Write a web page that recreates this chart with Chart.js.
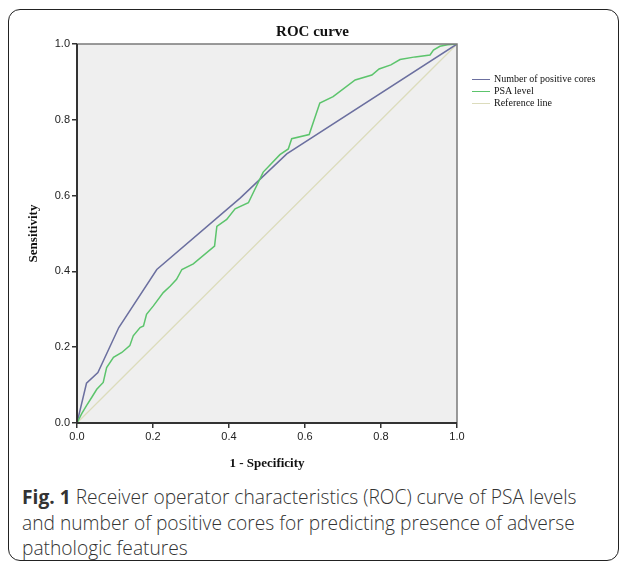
<!DOCTYPE html>
<html>
<head>
<meta charset="utf-8">
<script src="https://cdn.jsdelivr.net/npm/chart.js@4.4.0/dist/chart.umd.min.js"></script>
<style>
  html, body { margin: 0; padding: 0; background: #fff; }
  body { width: 625px; height: 565px; position: relative; overflow: hidden; }
  #frame { position: absolute; left: 8px; top: 9px; width: 611px; height: 552px;
           border: 1.5px solid #222; border-radius: 12px; box-sizing: border-box; }
  #wrap { position: absolute; left: 0; top: 0; width: 625px; height: 475px; }
  #legend { position: absolute; left: 472px; top: 73px; font-family: "Liberation Serif", serif;
            font-size: 10px; color: #111; line-height: 12px; }
  #legend div { display: flex; align-items: center; white-space: nowrap; }
  #legend span.sw { display: inline-block; width: 18px; height: 0; border-top: 1.5px solid; margin-right: 4px; }
  #caption { position: absolute; left: 22px; top: 484px; width: 580px; font-family: "Open Sans", sans-serif;
             font-size: 19.2px; line-height: 25.5px; color: #333; font-weight: 300; }
  #caption b { font-weight: 700; }
</style>
</head>
<body>
<div id="frame"></div>
<div id="wrap"><canvas id="c" width="625" height="475"></canvas></div>
<div id="legend"></div>
<div id="caption"><b>Fig. 1</b> Receiver operator characteristics (ROC) curve of PSA levels and number of positive cores for predicting presence of adverse pathologic features</div>
<script>
// ---- data ----
const seriesNames = ["Number of positive cores", "PSA level", "Reference line"];
const seriesColors = ["#6b6f9f", "#5cc46c", "#dcdcbc"];

const coresFpr = [0, 0.025, 0.055, 0.11, 0.21, 0.43, 0.552, 1];
const coresTpr = [0, 0.105, 0.133, 0.252, 0.405, 0.594, 0.71, 1];

const psaFpr = [0, 0.012, 0.025, 0.039, 0.052, 0.069, 0.078, 0.096, 0.118, 0.139, 0.148, 0.166, 0.175, 0.183, 0.201, 0.227, 0.245, 0.262, 0.276, 0.306, 0.362, 0.368, 0.394, 0.416, 0.451, 0.49, 0.534, 0.556, 0.565, 0.611, 0.639, 0.674, 0.732, 0.776, 0.795, 0.826, 0.85, 0.89, 0.929, 0.938, 0.955, 0.975, 1];
const psaTpr = [0, 0.024, 0.046, 0.068, 0.089, 0.107, 0.146, 0.173, 0.186, 0.204, 0.23, 0.252, 0.256, 0.287, 0.309, 0.344, 0.361, 0.379, 0.405, 0.42, 0.467, 0.519, 0.537, 0.565, 0.581, 0.662, 0.708, 0.723, 0.75, 0.761, 0.844, 0.861, 0.905, 0.918, 0.934, 0.945, 0.959, 0.966, 0.971, 0.984, 0.994, 0.998, 1];

const refFpr = [0, 1];
const refTpr = [0, 1];

const tickValues = [0, 0.2, 0.4, 0.6, 0.8, 1.0];

// ---- build ----
const pts = (xs, ys) => xs.map((x, i) => ({ x: x, y: ys[i] }));

const plotFrame = {
  id: 'plotFrame',
  beforeDatasetsDraw(chart) {
    const a = chart.chartArea, ctx = chart.ctx;
    ctx.save();
    ctx.fillStyle = '#efefef';
    ctx.fillRect(a.left, a.top, a.right - a.left, a.bottom - a.top);
    ctx.restore();
  },
  afterDraw(chart) {
    const a = chart.chartArea, ctx = chart.ctx;
    ctx.save();
    ctx.strokeStyle = '#7a7a7a';
    ctx.lineWidth = 1.5;
    ctx.beginPath();
    ctx.moveTo(a.left, a.top); ctx.lineTo(a.right, a.top); ctx.lineTo(a.right, a.bottom);
    ctx.stroke();
    ctx.strokeStyle = '#333';
    ctx.lineWidth = 2;
    ctx.beginPath();
    ctx.moveTo(a.left, a.top); ctx.lineTo(a.left, a.bottom); ctx.lineTo(a.right, a.bottom);
    ctx.stroke();
    ctx.restore();
  }
};

const tickFont = { family: '"Liberation Sans", Arial, sans-serif', size: 11 };
const titleFont = { family: '"Liberation Serif", serif', size: 13, weight: 'bold' };

new Chart(document.getElementById('c'), {
  type: 'scatter',
  data: {
    datasets: [
      { label: seriesNames[2], data: pts(refFpr, refTpr), borderColor: seriesColors[2], borderWidth: 1.3, showLine: true, pointRadius: 0, order: 3 },
      { label: seriesNames[0], data: pts(coresFpr, coresTpr), borderColor: seriesColors[0], borderWidth: 1.5, showLine: true, pointRadius: 0, order: 2 },
      { label: seriesNames[1], data: pts(psaFpr, psaTpr), borderColor: seriesColors[1], borderWidth: 1.5, showLine: true, pointRadius: 0, order: 1 }
    ]
  },
  options: {
    responsive: false,
    animation: false,
    devicePixelRatio: 1,
    layout: { padding: { left: 0, right: 0, top: 0, bottom: 0 } },
    plugins: {
      legend: { display: false },
      tooltip: { enabled: false },
      title: { display: true, text: 'ROC curve', color: '#111',
               font: { family: '"Liberation Serif", serif', size: 15, weight: 'bold' },
               padding: { top: 23, bottom: 3 } }
    },
    scales: {
      x: {
        type: 'linear', min: 0, max: 1,
        afterBuildTicks: s => { s.ticks = tickValues.map(v => ({ value: v })); },
        afterFit: s => { s.height = 52; },
        ticks: { callback: v => v.toFixed(1), color: '#222', font: tickFont, padding: 2, maxRotation: 0 },
        grid: { drawOnChartArea: false, drawTicks: true, tickLength: 5, color: '#333', lineWidth: 1.5 },
        border: { display: false },
        title: { display: true, text: '1 - Specificity', color: '#111', font: titleFont, padding: { top: 6, bottom: 4 } }
      },
      y: {
        type: 'linear', min: 0, max: 1,
        afterBuildTicks: s => { s.ticks = tickValues.map(v => ({ value: v })); },
        afterFit: s => { s.width = 77; },
        ticks: { callback: v => v.toFixed(1), color: '#222', font: tickFont, padding: 2 },
        grid: { drawOnChartArea: false, drawTicks: true, tickLength: 5, color: '#333', lineWidth: 1.5 },
        border: { display: false },
        title: { display: true, text: 'Sensitivity', color: '#111', font: titleFont, padding: { top: 26, bottom: 4 } }
      },
      yr: {
        type: 'linear', position: 'right', min: 0, max: 1, display: true,
        afterFit: s => { s.width = 168; },
        ticks: { display: false },
        grid: { display: false, drawOnChartArea: false },
        border: { display: false }
      }
    }
  },
  plugins: [plotFrame]
});

// legend (HTML)
const lg = document.getElementById('legend');
[0, 1, 2].forEach(i => {
  const row = document.createElement('div');
  const sw = document.createElement('span');
  sw.className = 'sw';
  sw.style.borderColor = seriesColors[i];
  row.appendChild(sw);
  row.appendChild(document.createTextNode(seriesNames[i]));
  lg.appendChild(row);
});
</script>
</body>
</html>
